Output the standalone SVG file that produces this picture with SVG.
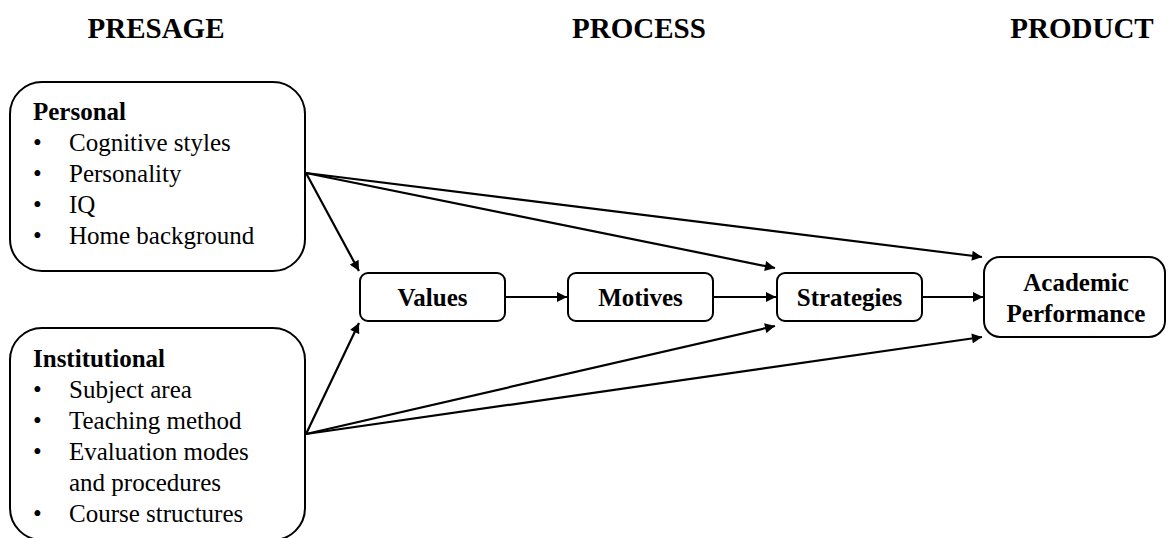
<svg xmlns="http://www.w3.org/2000/svg" width="1168" height="538" viewBox="0 0 1168 538">
<defs>
<marker id="ah" viewBox="0 0 10 10" refX="10" refY="5" markerWidth="11" markerHeight="10" markerUnits="userSpaceOnUse" orient="auto">
<path d="M0,0 L10,5 L0,10 z" fill="#000"/>
</marker>
<style>
.box{fill:#fff;stroke:#000;stroke-width:2}
.t{font-family:"Liberation Serif","Times New Roman",serif;fill:#000}
.h{font-size:29px;font-weight:bold}
.b{font-size:25px;font-weight:bold}
.n{font-size:25px}
.c{stroke:#000;stroke-width:2.2;fill:none;marker-end:url(#ah)}
</style>
</defs>
<rect width="1168" height="538" fill="#fff"/>
<g id="headers" class="t h" text-anchor="middle">
<text x="156" y="38">PRESAGE</text>
<text x="639" y="38">PROCESS</text>
<text x="1082" y="38">PRODUCT</text>
</g>
<g id="connectors">
<line class="c" x1="306" y1="173" x2="359" y2="271"/>
<line class="c" x1="306" y1="173" x2="775" y2="268"/>
<line class="c" x1="306" y1="173" x2="982" y2="257"/>
<line class="c" x1="306" y1="434" x2="359" y2="323"/>
<line class="c" x1="306" y1="434" x2="775" y2="326"/>
<line class="c" x1="306" y1="434" x2="982" y2="337"/>
<line class="c" x1="506" y1="297" x2="567" y2="297"/>
<line class="c" x1="714" y1="297" x2="776" y2="297"/>
<line class="c" x1="923" y1="297" x2="983" y2="297"/>
</g>
<g id="personal">
<rect class="box" x="10" y="82" width="295" height="189" rx="32"/>
<text class="t b" x="33" y="120">Personal</text>
<g class="t n">
<text x="33" y="151">•</text><text x="69" y="151">Cognitive styles</text>
<text x="33" y="182">•</text><text x="69" y="182">Personality</text>
<text x="33" y="213">•</text><text x="69" y="213">IQ</text>
<text x="33" y="244">•</text><text x="69" y="244">Home background</text>
</g>
</g>
<g id="institutional">
<rect class="box" x="10" y="328" width="295" height="212" rx="32"/>
<text class="t b" x="33" y="367">Institutional</text>
<g class="t n">
<text x="33" y="398">•</text><text x="69" y="398">Subject area</text>
<text x="33" y="429">•</text><text x="69" y="429">Teaching method</text>
<text x="33" y="460">•</text><text x="69" y="460">Evaluation modes</text>
<text x="69" y="491">and procedures</text>
<text x="33" y="522">•</text><text x="69" y="522">Course structures</text>
</g>
</g>
<g id="values">
<rect class="box" x="360" y="273" width="145" height="48" rx="8"/>
<text class="t b" x="432.5" y="306" text-anchor="middle">Values</text>
</g>
<g id="motives">
<rect class="box" x="568" y="273" width="145" height="48" rx="8"/>
<text class="t b" x="640.5" y="306" text-anchor="middle">Motives</text>
</g>
<g id="strategies">
<rect class="box" x="777" y="273" width="145" height="48" rx="8"/>
<text class="t b" x="849.5" y="306" text-anchor="middle">Strategies</text>
</g>
<g id="academic">
<rect class="box" x="984" y="257" width="181" height="80" rx="16"/>
<text class="t b" x="1076" y="291" text-anchor="middle">Academic</text>
<text class="t b" x="1076" y="322" text-anchor="middle">Performance</text>
</g>
</svg>
